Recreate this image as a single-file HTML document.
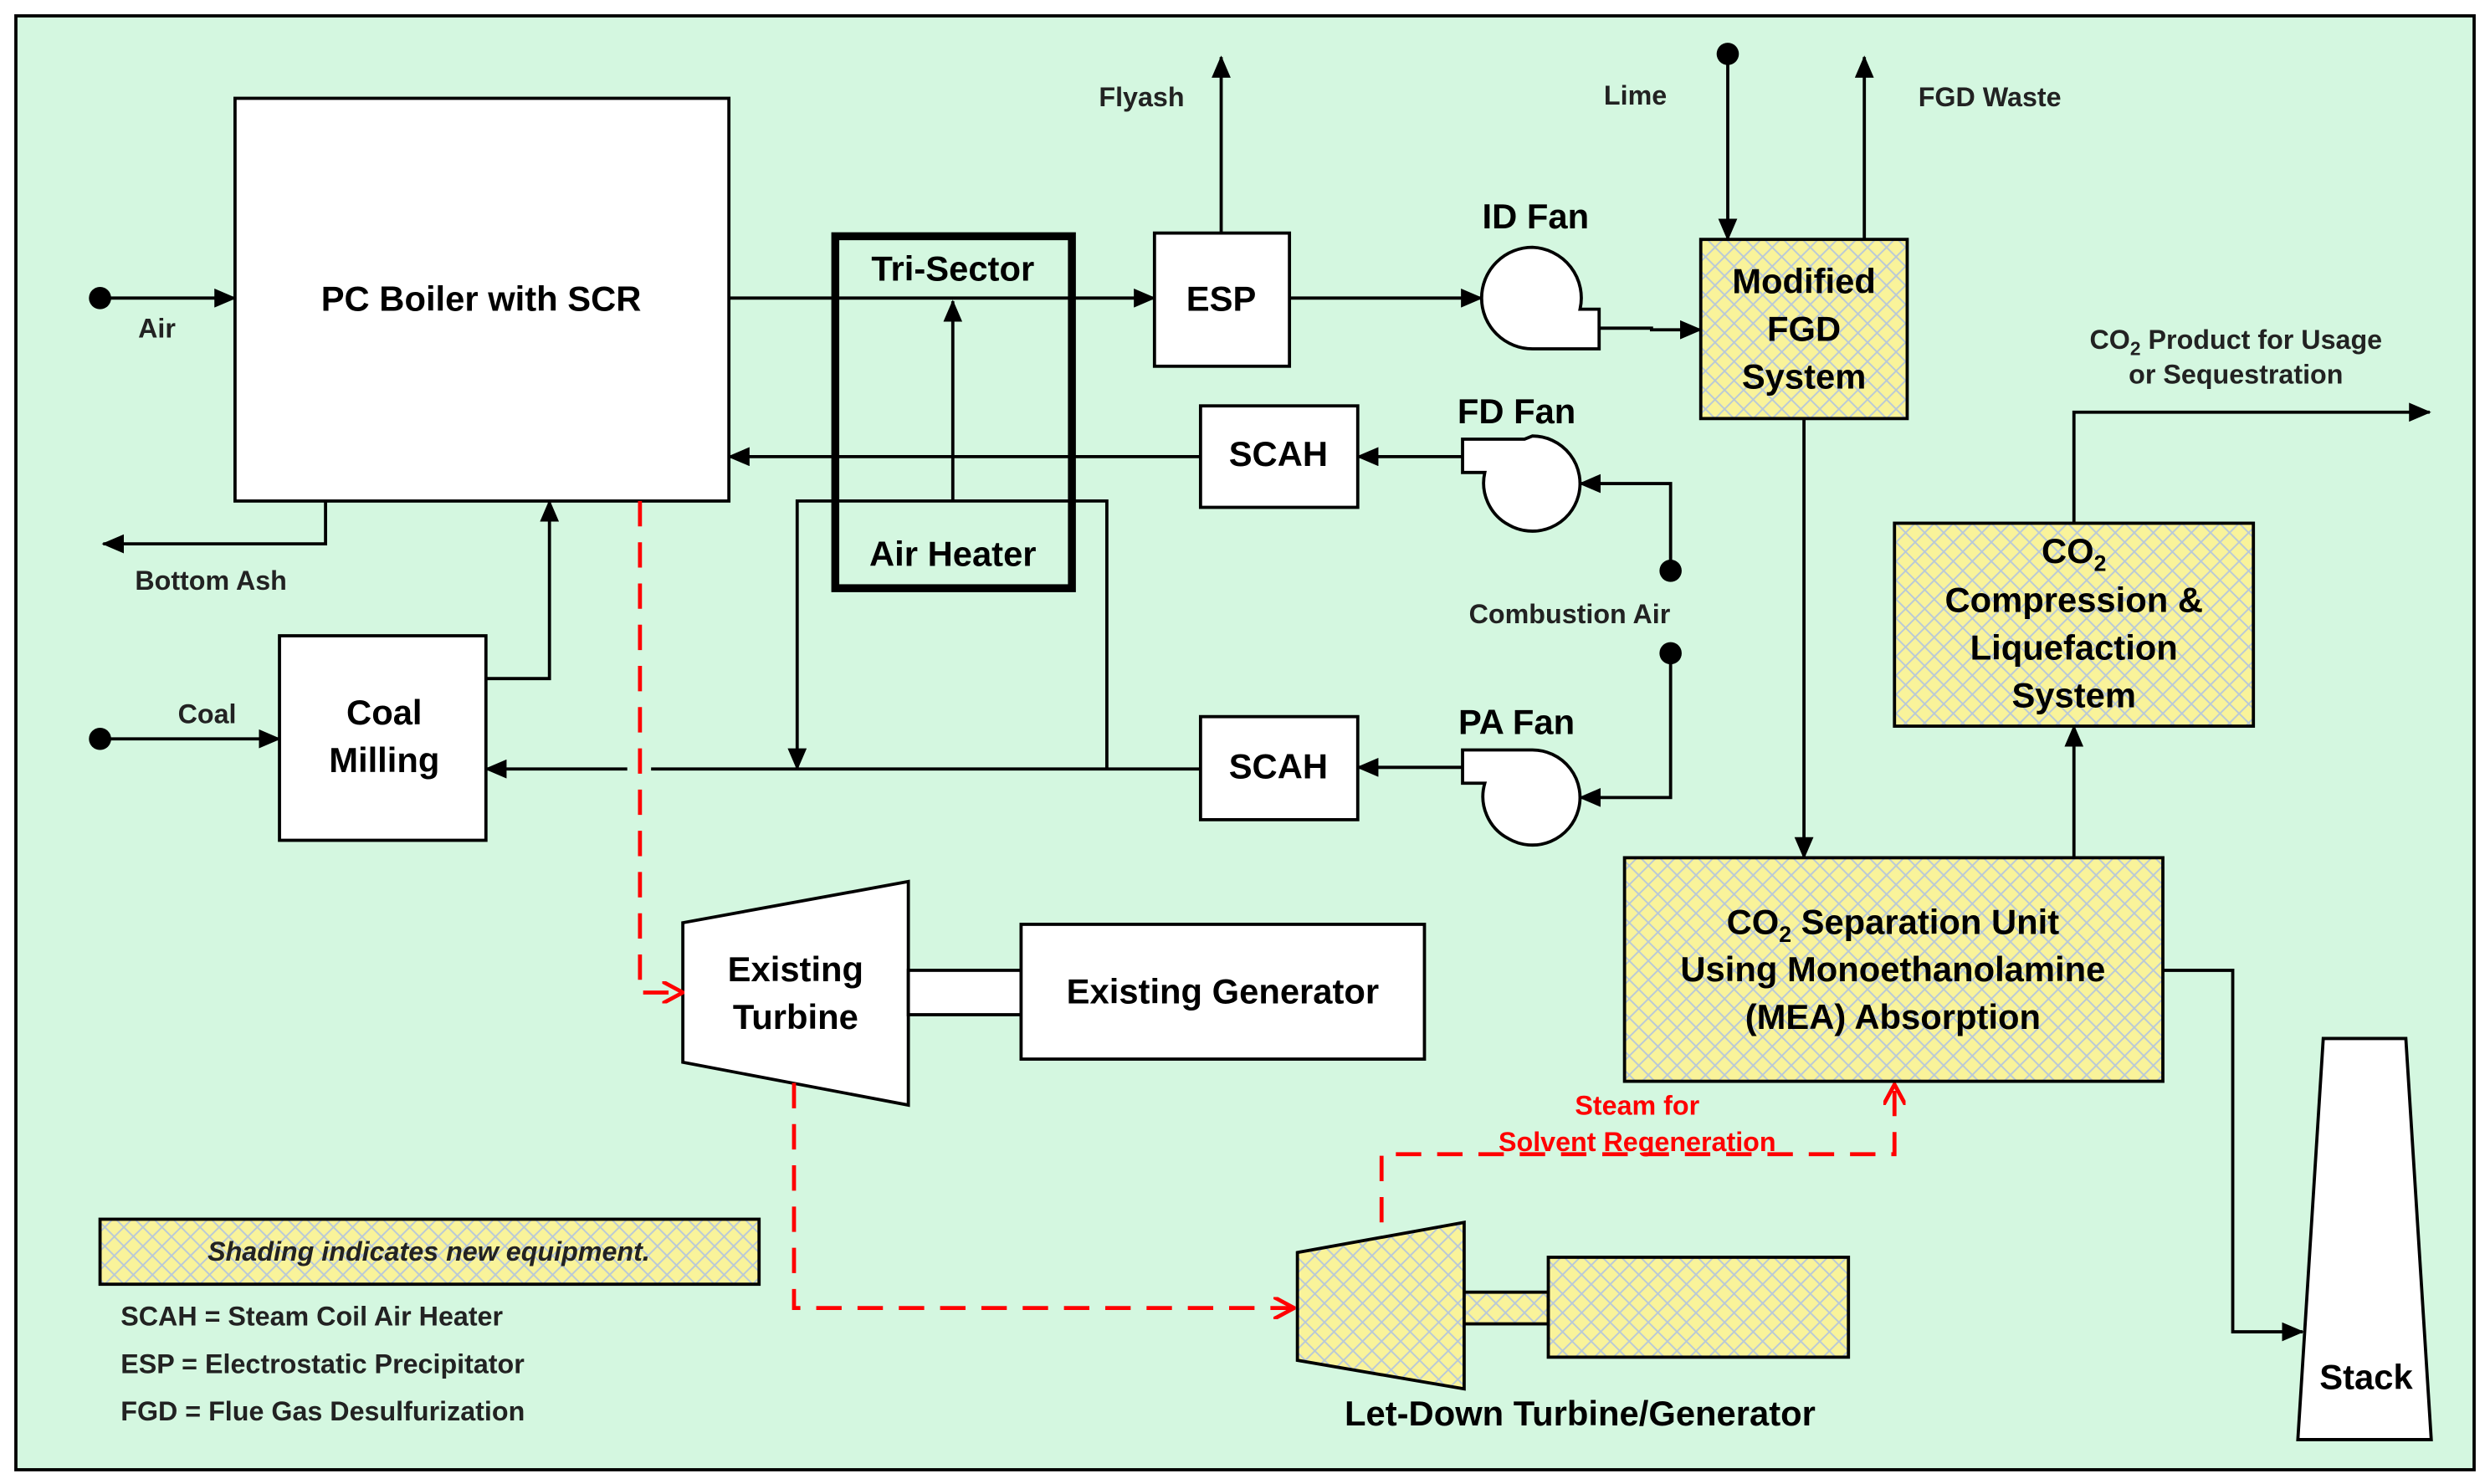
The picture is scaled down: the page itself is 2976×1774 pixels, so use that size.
<!DOCTYPE html>
<html><head><meta charset="utf-8"><style>html,body{margin:0;padding:0;background:#fff}svg{display:block}</style></head><body>
<svg width="2976" height="1774" viewBox="0 0 1568 936" preserveAspectRatio="none" xmlns="http://www.w3.org/2000/svg" font-family="'Liberation Sans', sans-serif" font-weight="bold">
<defs>
<pattern id="h" width="12" height="12" patternUnits="userSpaceOnUse">
<rect width="12" height="12" fill="#f9f39a"/>
<path d="M0 0L12 12M12 0L0 12" stroke="#b8c8d8" stroke-width="1"/>
</pattern>
<marker id="a" markerWidth="14" markerHeight="12" refX="13" refY="6" orient="auto" markerUnits="userSpaceOnUse"><path d="M0 0L14 6L0 12z" fill="#000"/></marker>
<marker id="r" markerWidth="14" markerHeight="14" refX="13" refY="7" orient="auto" markerUnits="userSpaceOnUse"><path d="M0 0L13 7L0 14" fill="none" stroke="#f00" stroke-width="2.5"/></marker>
</defs>
<rect x="0" y="0" width="1568" height="936" fill="#fff"/>
<rect x="10" y="10" width="1548" height="917" fill="#d4f7e0" stroke="#000" stroke-width="2"/>
<g stroke="#000" stroke-width="2" fill="none">
<rect x="148" y="62" width="311" height="254" fill="#fff"/>
<line x1="63" y1="188" x2="148" y2="188" marker-end="url(#a)"/>
<polyline points="205,316 205,343 65,343" marker-end="url(#a)"/>
<rect x="176" y="401" width="130" height="129" fill="#fff"/>
<line x1="63" y1="466" x2="176" y2="466" marker-end="url(#a)"/>
<polyline points="306,428 346,428 346,316" marker-end="url(#a)"/>
<polyline points="697,485 697,316 502,316 502,485" marker-end="url(#a)"/>
<rect x="526" y="149" width="149" height="222" stroke-width="5"/>
<line x1="600" y1="316" x2="600" y2="190" marker-end="url(#a)"/>
<line x1="459" y1="188" x2="727" y2="188" marker-end="url(#a)"/>
<rect x="727" y="147" width="85" height="84" fill="#fff"/>
<line x1="769" y1="147" x2="769" y2="36" marker-end="url(#a)"/>
<line x1="812" y1="188" x2="933" y2="188" marker-end="url(#a)"/>
<path d="M965 156 A32 32 0 1 0 965 220 L1007 220 L1007 195 L995 195 A32 32 0 0 0 965 156z" fill="#fff"/>
<polyline points="1007,207 1040,207 1040,208 1071,208" marker-end="url(#a)"/>
<rect x="1071" y="151" width="130" height="113" fill="url(#h)"/>
<line x1="1088" y1="34" x2="1088" y2="151" marker-end="url(#a)"/>
<line x1="1174" y1="151" x2="1174" y2="36" marker-end="url(#a)"/>
<line x1="1136" y1="264" x2="1136" y2="541" marker-end="url(#a)"/>
<rect x="1023" y="541" width="339" height="141" fill="url(#h)"/>
<line x1="1306" y1="541" x2="1306" y2="458" marker-end="url(#a)"/>
<rect x="1193" y="330" width="226" height="128" fill="url(#h)"/>
<polyline points="1306,330 1306,260 1530,260" marker-end="url(#a)"/>
<polyline points="1362,612 1406,612 1406,840 1450,840" marker-end="url(#a)"/>
<polygon points="1463,655 1515,655 1531,908 1447,908" fill="#fff"/>
<rect x="756" y="256" width="99" height="64" fill="#fff"/>
<line x1="756" y1="288" x2="459" y2="288" marker-end="url(#a)"/>
<path d="M965 275 A30 30 0 1 1 950 331 A30 30 0 0 1 935 298 L921 298 L921 277 L960 277z" fill="#fff"/>
<line x1="921" y1="288" x2="855" y2="288" marker-end="url(#a)"/>
<polyline points="1052,360 1052,305 995,305" marker-end="url(#a)"/>
<rect x="756" y="452" width="99" height="65" fill="#fff"/>
<path d="M965 473 A30 30 0 1 1 950 529 A30 30 0 0 1 935 494 L921 494 L921 473 L960 473z" fill="#fff"/>
<line x1="921" y1="484" x2="855" y2="484" marker-end="url(#a)"/>
<polyline points="1052,412 1052,503 995,503" marker-end="url(#a)"/>
<line x1="756" y1="485" x2="410" y2="485"/>
<line x1="395" y1="485" x2="306" y2="485" marker-end="url(#a)"/>
<polygon points="430,582 572,556 572,697 430,670" fill="#fff"/>
<rect x="572" y="612" width="71" height="28" fill="#fff"/>
<rect x="643" y="583" width="254" height="85" fill="#fff"/>
<polygon points="817,790 922,771 922,876 817,858" fill="url(#h)"/>
<rect x="922" y="815" width="53" height="20" fill="url(#h)"/>
<rect x="975" y="793" width="189" height="63" fill="url(#h)"/>
<rect x="63" y="769" width="415" height="41" fill="url(#h)"/>
</g>
<g fill="#000">
<circle cx="63" cy="188" r="7"/><circle cx="63" cy="466" r="7"/>
<circle cx="1088" cy="34" r="7"/><circle cx="1052" cy="360" r="7"/><circle cx="1052" cy="412" r="7"/>
</g>
<g stroke="#f00" stroke-width="2.5" fill="none" stroke-dasharray="16,10">
<polyline points="403,316 403,626 430,626" marker-end="url(#r)"/>
<polyline points="500,683 500,825 815,825" marker-end="url(#r)"/>
<polyline points="870,771 870,728 1193,728 1193,684" marker-end="url(#r)"/>
</g>
<g text-anchor="middle" font-size="22">
<text x="303" y="196">PC Boiler with SCR</text>
<text x="600" y="177">Tri-Sector</text>
<text x="600" y="357">Air Heater</text>
<text x="769" y="196">ESP</text>
<text x="967" y="144">ID Fan</text>
<text x="955" y="267">FD Fan</text>
<text x="955" y="463">PA Fan</text>
<text x="805" y="294">SCAH</text>
<text x="805" y="491">SCAH</text>
<text x="242" y="457">Coal</text>
<text x="242" y="487">Milling</text>
<text x="1136" y="185">Modified</text>
<text x="1136" y="215">FGD</text>
<text x="1136" y="245">System</text>
<text x="1306" y="355">CO<tspan font-size="14" dy="5">2</tspan></text>
<text x="1306" y="386">Compression &amp;</text>
<text x="1306" y="416">Liquefaction</text>
<text x="1306" y="446">System</text>
<text x="1192" y="589">CO<tspan font-size="14" dy="5">2</tspan><tspan dy="-5"> Separation Unit</tspan></text>
<text x="1192" y="619">Using Monoethanolamine</text>
<text x="1192" y="649">(MEA) Absorption</text>
<text x="501" y="619">Existing</text>
<text x="501" y="649">Turbine</text>
<text x="770" y="633">Existing Generator</text>
<text x="995" y="899">Let-Down Turbine/Generator</text>
<text x="1490" y="876">Stack</text>
</g>
<g font-size="17" fill="#222">
<text x="87" y="213">Air</text>
<text x="85" y="372">Bottom Ash</text>
<text x="112" y="456">Coal</text>
<text x="692" y="67">Flyash</text>
<text x="1010" y="66">Lime</text>
<text x="1208" y="67">FGD Waste</text>
<text x="925" y="393">Combustion Air</text>
<text x="1408" y="220" text-anchor="middle">CO<tspan font-size="12" dy="4">2</tspan><tspan dy="-4"> Product for Usage</tspan></text>
<text x="1408" y="242" text-anchor="middle">or Sequestration</text>
<text x="76" y="836">SCAH = Steam Coil Air Heater</text>
<text x="76" y="866">ESP = Electrostatic Precipitator</text>
<text x="76" y="896">FGD = Flue Gas Desulfurization</text>
<text x="270" y="795" text-anchor="middle" font-style="italic">Shading indicates new equipment.</text>
</g>
<g font-size="17" fill="#f00" text-anchor="middle">
<text x="1031" y="703">Steam for</text>
<text x="1031" y="726">Solvent Regeneration</text>
</g>
</svg>
</body></html>
